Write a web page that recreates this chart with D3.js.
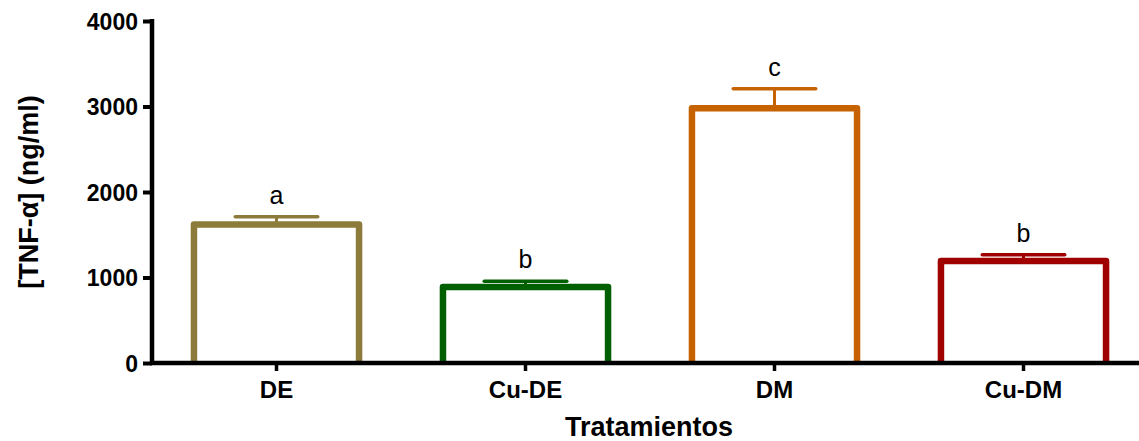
<!DOCTYPE html>
<html>
<head>
<meta charset="utf-8">
<script src="https://cdn.jsdelivr.net/npm/d3@7"></script>
<style>
  html, body { margin: 0; padding: 0; background: #fff; }
  svg { display: block; font-family: "Liberation Sans", Arial, sans-serif; }
</style>
</head>
<body>
<svg id="chart" width="1139" height="441"></svg>
<script>
// TNF-α by treatment group: mean, upper error (mean + SEM), significance letters
const categories = ["DE", "Cu-DE", "DM", "Cu-DM"];
const means      = [1620, 890, 2980, 1192];
const errorTops  = [1711, 957, 3207, 1265];
const letters    = ["a", "b", "c", "b"];
const colors     = ["#8C7B3A", "#005F00", "#C66300", "#A00000"];
const yTicks     = [0, 1000, 2000, 3000, 4000];

const svg = d3.select("#chart");
const plotLeft = 152, plotBottom = 363, plotTop = 21;

const x = d3.scaleBand()
  .domain(categories)
  .range([plotLeft, plotLeft + 996])
  .paddingInner(0.337)
  .paddingOuter(0.337 / 2);

const y = d3.scaleLinear().domain([0, 4000]).range([plotBottom, plotTop]);

const data = categories.map((c, i) => ({
  cat: c, mean: means[i], top: errorTops[i], letter: letters[i], color: colors[i]
}));

// error bars (stem + cap)
const capW = x.bandwidth() / 2;
const eb = svg.append("g");
data.forEach(d => {
  const cx = x(d.cat) + x.bandwidth() / 2;
  eb.append("line")
    .attr("x1", cx).attr("x2", cx)
    .attr("y1", y(d.mean)).attr("y2", y(d.top))
    .attr("stroke", d.color).attr("stroke-width", 3);
  eb.append("line")
    .attr("x1", cx - capW / 2).attr("x2", cx + capW / 2)
    .attr("y1", y(d.top)).attr("y2", y(d.top))
    .attr("stroke", d.color).attr("stroke-width", 3.5)
    .attr("stroke-linecap", "round");
});

// hollow bars: open at the baseline (left side, top, right side)
svg.append("g").selectAll("path").data(data).join("path")
  .attr("d", d => {
    const x0 = x(d.cat), x1 = x0 + x.bandwidth();
    return `M${x0},${y(0)}V${y(d.mean)}H${x1}V${y(0)}`;
  })
  .attr("fill", "none")
  .attr("stroke", d => d.color)
  .attr("stroke-width", 6.5)
  .attr("stroke-linejoin", "round");

// significance letters
svg.append("g").selectAll("text").data(data).join("text")
  .attr("x", d => x(d.cat) + x.bandwidth() / 2)
  .attr("y", d => y(d.top) - 13)
  .attr("text-anchor", "middle")
  .attr("font-size", 25)
  .attr("fill", "#000")
  .text(d => d.letter);

// y axis
const yAxis = svg.append("g")
  .attr("transform", `translate(${plotLeft},0)`)
  .call(d3.axisLeft(y).tickValues(yTicks).tickFormat(d3.format("d")).tickSize(9).tickSizeOuter(0));
yAxis.select(".domain").attr("stroke", "#000").attr("stroke-width", 4.5)
  .attr("d", `M0,${plotTop - 2}V${plotBottom + 2}`);
yAxis.selectAll(".tick line").attr("stroke", "#000").attr("stroke-width", 4);
yAxis.selectAll(".tick text")
  .attr("x", -14).attr("dy", "0.36em")
  .attr("font-size", 23).attr("font-weight", "bold")
  .attr("font-family", "Liberation Sans, Arial, sans-serif")
  .attr("fill", "#000");

// x axis
const xAxis = svg.append("g")
  .attr("transform", `translate(0,${plotBottom})`)
  .call(d3.axisBottom(x).tickSize(8).tickSizeOuter(0));
xAxis.select(".domain").attr("stroke", "#000").attr("stroke-width", 4.5)
  .attr("d", `M${plotLeft - 2},0H1139`);
xAxis.selectAll(".tick line").attr("stroke", "#000").attr("stroke-width", 3.5);
xAxis.selectAll(".tick text")
  .attr("y", 35).attr("dy", null)
  .attr("font-size", 24).attr("font-weight", "bold")
  .attr("font-family", "Liberation Sans, Arial, sans-serif")
  .attr("fill", "#000");

// axis titles
svg.append("text")
  .attr("x", 649).attr("y", 436)
  .attr("text-anchor", "middle")
  .attr("font-size", 27).attr("font-weight", "bold")
  .text("Tratamientos");

svg.append("text")
  .attr("transform", "translate(38,192) rotate(-90)")
  .attr("text-anchor", "middle")
  .attr("font-size", 27).attr("font-weight", "bold")
  .text("[TNF-α] (ng/ml)");
</script>
</body>
</html>
